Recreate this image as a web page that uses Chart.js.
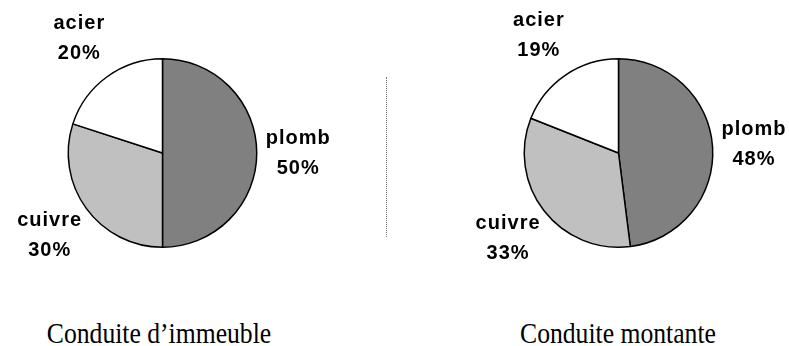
<!DOCTYPE html>
<html>
<head>
<meta charset="utf-8">
<script src="https://cdn.jsdelivr.net/npm/chart.js@4/dist/chart.umd.min.js"></script>
<style>
    body { margin: 0; background: #fff; }
    #wrap { position: relative; width: 789px; height: 346px; overflow: hidden; }
    canvas { position: absolute; top: 0; }
    #sep { position: absolute; left: 386px; top: 77px; height: 160px; border-left: 1px dotted #777; }
    .caption {
        position: absolute; top: 320px; width: 300px; text-align: center;
        font-family: "Liberation Serif", "Times New Roman", serif; font-size: 28.5px; line-height: 28.5px;
        color: #000; transform: scaleX(0.9); transform-origin: center;
    }
</style>
</head>
<body>
<div id="wrap">
    <canvas id="chartImmeuble" width="385" height="290" style="left:0"></canvas>
    <canvas id="chartMontante" width="404" height="290" style="left:385px"></canvas>
    <div id="sep"></div>
    <div class="caption" style="left:9px">Conduite d’immeuble</div>
    <div class="caption" style="left:468px">Conduite montante</div>
</div>
<script>
const materials = ['plomb', 'cuivre', 'acier'];
const immeubleValues = [50, 30, 20];
const montanteValues = [48, 33, 19];
const sliceColors = ['#808080', '#c0c0c0', '#ffffff'];

// étiquettes "nom / xx%" posées à l'extérieur de chaque part
const outsideLabels = {
    id: 'outsideLabels',
    afterDatasetsDraw(chart) {
        const ctx = chart.ctx;
        const meta = chart.getDatasetMeta(0);
        const values = chart.data.datasets[0].data;
        ctx.save();
        ctx.font = 'bold 20px "Liberation Sans", Arial, sans-serif';
        ctx.letterSpacing = '1px';
        ctx.fillStyle = '#000';
        ctx.textAlign = 'center';
        ctx.textBaseline = 'middle';
        meta.data.forEach((arc, i) => {
            const p = arc.getProps(['x', 'y', 'startAngle', 'endAngle', 'outerRadius'], true);
            const mid = (p.startAngle + p.endAngle) / 2;
            // un peu plus près du disque quand l'étiquette est à l'horizontale
            const r = p.outerRadius * (1.51 - 0.07 * Math.pow(Math.cos(mid), 4));
            const lx = p.x + Math.cos(mid) * r;
            const ly = p.y + Math.sin(mid) * r;
            ctx.fillText(chart.data.labels[i], lx, ly - 15);
            ctx.fillText(values[i] + '%', lx, ly + 15);
        });
        ctx.restore();
    }
};

function makePie(id, values, padding) {
    return new Chart(document.getElementById(id), {
        type: 'pie',
        data: {
            labels: materials,
            datasets: [{
                data: values,
                backgroundColor: sliceColors,
                borderColor: '#000',
                borderWidth: 1.5,
                hoverOffset: 0
            }]
        },
        options: {
            responsive: false,
            animation: false,
            layout: { padding: padding },
            plugins: {
                legend: { display: false },
                tooltip: { enabled: false }
            }
        },
        plugins: [outsideLabels]
    });
}

makePie('chartImmeuble', immeubleValues, { left: 67.5, right: 127.5, top: 58, bottom: 42 });
makePie('chartMontante', montanteValues, { left: 138.5, right: 75.5, top: 58, bottom: 42 });
</script>
</body>
</html>
